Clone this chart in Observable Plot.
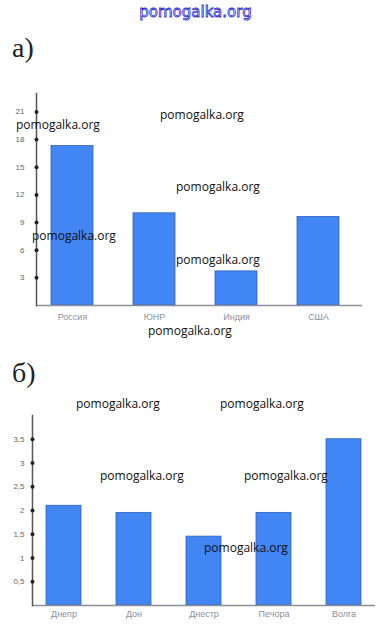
<!DOCTYPE html>
<html>
<head>
<meta charset="utf-8">
<script src="https://cdn.jsdelivr.net/npm/d3@7"></script>
<script src="https://cdn.jsdelivr.net/npm/@observablehq/plot@0.6"></script>
<style>
  body { margin: 0; background: #fff; }
  #page { position: relative; width: 391px; height: 635px; overflow: hidden; background: #fff; }
  .abs { position: absolute; }
  .title { font-family: "Liberation Serif", serif; font-size: 28px; color: #222; line-height: 1; }
  .wm { font-family: "Open Sans", sans-serif; font-size: 12px; color: #111; line-height: 11px; white-space: nowrap; }
  .topwm { font-family: "DejaVu Sans", sans-serif; font-size: 15px; color: #fff; -webkit-text-stroke: 0.8px #2a2ad8; line-height: 18px; white-space: nowrap; }
</style>
</head>
<body>
<div id="page"></div>
<script>
// ----- data: chart а) -----
const countries = ["Россия", "ЮНР", "Индия", "США"];
const countryValues = [17.3, 10, 3.7, 9.6];
const countryTicks = [3, 6, 9, 12, 15, 18, 21];

// ----- data: chart б) -----
const rivers = ["Днепр", "Дон", "Днестр", "Печора", "Волга"];
const riverValues = [2.1, 1.95, 1.45, 1.95, 3.5];
const riverTicks = [0.5, 1, 1.5, 2, 2.5, 3, 3.5];

// watermark texts (image overlay): left x, centre y
const watermarks = [
  [16, 124], [160, 114], [176, 186], [32, 235], [176, 259], [148, 330],
  [76, 403], [220, 403], [100, 475], [244, 475], [204, 547]
];

const page = document.getElementById("page");

function add(el, left, topPx) {
  el.classList.add("abs");
  el.style.left = left + "px";
  el.style.top = topPx + "px";
  page.appendChild(el);
  return el;
}

const barFill = "#4285f4";
const barStroke = "#3060b8";

function makeChart(cats, vals, ticks, opts) {
  const data = cats.map((c, i) => ({ cat: c, value: vals[i] }));
  return Plot.plot({
    width: 391,
    height: opts.height,
    marginLeft: opts.marginLeft,
    marginRight: opts.marginRight,
    marginTop: opts.marginTop,
    marginBottom: opts.marginBottom,
    style: { background: "transparent", fontFamily: "Liberation Sans, Arial, sans-serif", overflow: "visible" },
    x: { domain: cats, paddingInner: opts.paddingInner, paddingOuter: opts.paddingOuter, insetRight: opts.insetRight || 0, label: null },
    y: { domain: opts.yDomain, label: null },
    marks: [
      Plot.barY(data, { x: "cat", y: "value", fill: barFill, stroke: barStroke, strokeWidth: 0.8 }),
      Plot.ruleY([0], { stroke: "#8a8f99", strokeWidth: 1.5 }),
      Plot.frame({ anchor: "left", stroke: "#555", strokeWidth: 1.5 }),
      Plot.dot(ticks, { y: d => d, frameAnchor: "left", r: 2, fill: "#222", stroke: null }),
      Plot.axisY({ ticks: ticks, tickSize: 0, tickPadding: opts.yPad, fontSize: 8, fill: "#666", tickFormat: d => String(d).replace(".", ",") }),
      Plot.axisX({ tickSize: 0, tickPadding: opts.xPad, fontSize: 9, fill: "#8a8fa0" })
    ]
  });
}

// top blue watermark
const topMark = document.createElement("div");
topMark.className = "topwm";
topMark.textContent = "pomogalka.org";
add(topMark, 0, 3);
topMark.style.width = "391px";
topMark.style.textAlign = "center";

// titles
const ta = document.createElement("div");
ta.className = "title";
ta.textContent = "а)";
add(ta, 12, 34);

const tb = document.createElement("div");
tb.className = "title";
tb.textContent = "б)";
add(tb, 12, 359);

// chart а)
const chartA = makeChart(countries, countryValues, countryTicks, {
  height: 250, marginLeft: 36, marginRight: 29, marginTop: 8, marginBottom: 30,
  paddingInner: 0.49, paddingOuter: 0.17, insetRight: 9, yDomain: [0, 23], yPad: 12, xPad: 8
});
add(chartA, 0, 85);

// chart б)
const chartB = makeChart(rivers, riverValues, riverTicks, {
  height: 225, marginLeft: 32, marginRight: 16, marginTop: 10, marginBottom: 25,
  paddingInner: 0.495, paddingOuter: 0.168, yDomain: [0, 4], yPad: 8, xPad: 5
});
add(chartB, 0, 405);

// black watermarks
for (const [x, y] of watermarks) {
  const w = document.createElement("div");
  w.className = "wm";
  w.textContent = "pomogalka.org";
  add(w, x, y - 5.5);
}
</script>
</body>
</html>
